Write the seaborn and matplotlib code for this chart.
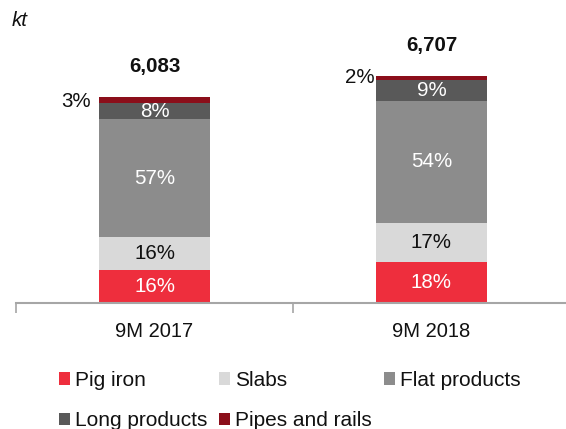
import matplotlib
matplotlib.use("Agg")
import matplotlib.pyplot as plt
from matplotlib.patches import Patch
import seaborn as sns
import pandas as pd
import numpy as np

# ---- data ----
periods = ["9M 2017", "9M 2018"]
totals = [6083, 6707]
series = ["Pig iron", "Slabs", "Flat products", "Long products", "Pipes and rails"]
pig_iron = [16, 18]
slabs = [16, 17]
flat_products = [57, 54]
long_products = [8, 9]
pipes_rails = [3, 2]
unit_label = "kt"

# ---- style ----
colors = ["#EE2E3D", "#D9D9D9", "#8C8C8C", "#595959", "#8B0E1A"]
text_colors = ["white", "#111111", "white", "white", "#111111"]
outside_dx = [-8, -1]
outside_dy = [-1.5, 0]

sns.set_theme(style="white")
plt.rcParams["font.family"] = ["Liberation Sans", "DejaVu Sans"]
FS = 14.8

shares = [pig_iron, slabs, flat_products, long_products, pipes_rails]
vals = np.array([[p * t / 100.0 for p, t in zip(s, totals)] for s in shares])
cum = np.cumsum(vals, axis=0)

W, H = 566, 429
fig = plt.figure(figsize=(W / 100, H / 100), dpi=100)
ax = fig.add_axes([16 / W, 126 / H, (570 - 16) / W, 273 / H])

# draw from top layer down so lower layers overlay
for i in range(len(series) - 1, -1, -1):
    df = pd.DataFrame({"period": periods, "value": cum[i]})
    sns.barplot(data=df, x="period", y="value", order=periods, color=colors[i],
                width=0.4, saturation=1, ax=ax, linewidth=0, errorbar=None)

ax.set_xlim(-0.5, 1.5)
ax.set_ylim(0, 8050)
ax.set_xlabel("")
ax.set_ylabel("")
ax.set_yticks([])
for s in ["top", "right", "left"]:
    ax.spines[s].set_visible(False)
ax.spines["bottom"].set_color("#A6A6A6")
ax.spines["bottom"].set_linewidth(1.5)
ax.set_xticks([-0.5, 0.5, 1.5], minor=True)
ax.tick_params(axis="x", which="minor", bottom=True, length=7, width=1.2, color="#A6A6A6")
ax.tick_params(axis="x", which="major", bottom=False, length=0, pad=14, labelsize=14.5,
               labelcolor="#111111")

# labels
for j in range(len(periods)):
    for i in range(len(series)):
        bottom = cum[i - 1][j] if i > 0 else 0
        mid = bottom + vals[i][j] / 2
        txt = f"{shares[i][j]}%"
        if i == len(series) - 1:
            ax.annotate(txt, (j - 0.2, mid), xytext=(outside_dx[j], outside_dy[j]),
                        textcoords="offset pixels", ha="right", va="center",
                        fontsize=FS, color=text_colors[i])
        else:
            ax.text(j, mid, txt, ha="center", va="center", fontsize=FS,
                    color=text_colors[i])
    ax.annotate(f"{totals[j]:,}", (j, cum[-1][j]), xytext=(0, 30),
                textcoords="offset pixels", ha="center", va="center",
                fontsize=FS, fontweight="bold", color="#111111")

fig.text(12 / W, 1 - 20 / H, unit_label, ha="left", va="center", fontsize=FS,
         style="italic", color="#111111")

handles = [Patch(facecolor=c, edgecolor="none") for c in colors]
order = [0, 3, 1, 4, 2]
fig.legend([handles[k] for k in order], [series[k] for k in order], ncol=3,
           loc="upper left", bbox_to_anchor=(59 / W, 1 - 371 / H), frameon=False,
           fontsize=15, handlelength=0.53, handleheight=0.53, handletextpad=0.25,
           columnspacing=0.55, labelspacing=1.02, borderpad=0, borderaxespad=0,
           labelcolor="#111111")

fig.savefig("out.png", dpi=100)
